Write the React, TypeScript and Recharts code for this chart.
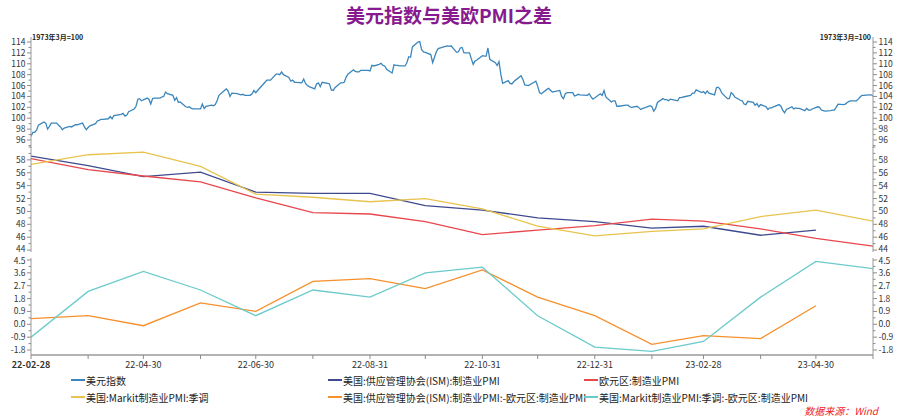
import { LineChart, Line, XAxis, YAxis, CartesianGrid } from 'recharts';

const W = 898;
const H = 419;
const AXIS_L = 31;
const AXIS_R = 873;
const AXIS_Y = 355;
const FONT = '"Noto Sans CJK SC", "Noto Sans", sans-serif';

// 美元指数 (daily)
const dxyDates = [
  '22-02-28',
  '22-03-01', '22-03-02', '22-03-03', '22-03-04', '22-03-07', '22-03-08', '22-03-09', '22-03-10', '22-03-11', '22-03-14', '22-03-15', '22-03-16', '22-03-17', '22-03-18', '22-03-21', '22-03-22', '22-03-23', '22-03-24', '22-03-25', '22-03-28', '22-03-29', '22-03-30', '22-03-31',
  '22-04-01', '22-04-04', '22-04-05', '22-04-06', '22-04-07', '22-04-08', '22-04-11', '22-04-12', '22-04-13', '22-04-14', '22-04-18', '22-04-19', '22-04-20', '22-04-21', '22-04-22', '22-04-25', '22-04-26', '22-04-27', '22-04-28', '22-04-29',
  '22-05-02', '22-05-03', '22-05-04', '22-05-05', '22-05-06', '22-05-09', '22-05-10', '22-05-11', '22-05-12', '22-05-13', '22-05-16', '22-05-17', '22-05-18', '22-05-19', '22-05-20', '22-05-23', '22-05-24', '22-05-25', '22-05-26', '22-05-27', '22-05-31',
  '22-06-01', '22-06-02', '22-06-03', '22-06-06', '22-06-07', '22-06-08', '22-06-09', '22-06-10', '22-06-13', '22-06-14', '22-06-15', '22-06-16', '22-06-17', '22-06-20', '22-06-21', '22-06-22', '22-06-23', '22-06-24', '22-06-27', '22-06-28', '22-06-29', '22-06-30',
  '22-07-01', '22-07-05', '22-07-06', '22-07-07', '22-07-08', '22-07-11', '22-07-12', '22-07-13', '22-07-14', '22-07-15', '22-07-18', '22-07-19', '22-07-20', '22-07-21', '22-07-22', '22-07-25', '22-07-26', '22-07-27', '22-07-28', '22-07-29',
  '22-08-01', '22-08-02', '22-08-03', '22-08-04', '22-08-05', '22-08-08', '22-08-09', '22-08-10', '22-08-11', '22-08-12', '22-08-15', '22-08-16', '22-08-17', '22-08-18', '22-08-19', '22-08-22', '22-08-23', '22-08-24', '22-08-25', '22-08-26', '22-08-29', '22-08-30', '22-08-31',
  '22-09-01', '22-09-02', '22-09-05', '22-09-06', '22-09-07', '22-09-08', '22-09-09', '22-09-12', '22-09-13', '22-09-14', '22-09-15', '22-09-16', '22-09-19', '22-09-20', '22-09-21', '22-09-22', '22-09-23', '22-09-26', '22-09-27', '22-09-28', '22-09-29', '22-09-30',
  '22-10-03', '22-10-04', '22-10-05', '22-10-06', '22-10-07', '22-10-10', '22-10-11', '22-10-12', '22-10-13', '22-10-14', '22-10-17', '22-10-18', '22-10-19', '22-10-20', '22-10-21', '22-10-24', '22-10-25', '22-10-26', '22-10-27', '22-10-28', '22-10-31',
  '22-11-01', '22-11-02', '22-11-03', '22-11-04', '22-11-07', '22-11-08', '22-11-09', '22-11-10', '22-11-11', '22-11-14', '22-11-15', '22-11-16', '22-11-17', '22-11-18', '22-11-21', '22-11-22', '22-11-23', '22-11-25', '22-11-28', '22-11-29', '22-11-30',
  '22-12-01', '22-12-02', '22-12-05', '22-12-06', '22-12-07', '22-12-08', '22-12-09', '22-12-12', '22-12-13', '22-12-14', '22-12-15', '22-12-16', '22-12-19', '22-12-20', '22-12-21', '22-12-22', '22-12-23', '22-12-27', '22-12-28', '22-12-29', '22-12-30',
  '23-01-03', '23-01-04', '23-01-05', '23-01-06', '23-01-09', '23-01-10', '23-01-11', '23-01-12', '23-01-13', '23-01-17', '23-01-18', '23-01-19', '23-01-20', '23-01-23', '23-01-24', '23-01-25', '23-01-26', '23-01-27', '23-01-30', '23-01-31',
  '23-02-01', '23-02-02', '23-02-03', '23-02-06', '23-02-07', '23-02-08', '23-02-09', '23-02-10', '23-02-13', '23-02-14', '23-02-15', '23-02-16', '23-02-17', '23-02-21', '23-02-22', '23-02-23', '23-02-24', '23-02-27', '23-02-28',
  '23-03-01', '23-03-02', '23-03-03', '23-03-06', '23-03-07', '23-03-08', '23-03-09', '23-03-10', '23-03-13', '23-03-14', '23-03-15', '23-03-16', '23-03-17', '23-03-20', '23-03-21', '23-03-22', '23-03-23', '23-03-24', '23-03-27', '23-03-28', '23-03-29', '23-03-30', '23-03-31',
  '23-04-03', '23-04-04', '23-04-05', '23-04-06', '23-04-07', '23-04-10', '23-04-11', '23-04-12', '23-04-13', '23-04-14', '23-04-17', '23-04-18', '23-04-19', '23-04-20', '23-04-21', '23-04-24', '23-04-25', '23-04-26', '23-04-27', '23-04-28',
  '23-05-01', '23-05-02', '23-05-03', '23-05-04', '23-05-05', '23-05-08', '23-05-09', '23-05-10', '23-05-11', '23-05-12', '23-05-15', '23-05-16', '23-05-17', '23-05-18', '23-05-19', '23-05-22', '23-05-23', '23-05-24', '23-05-25', '23-05-26', '23-05-29', '23-05-30', '23-05-31',
];
const dxyValues = [
  96.7,
  97.4, 97.4, 97.8, 98.7, 99.3, 99.1, 98.0, 98.5, 99.1, 99.1, 98.7, 98.4, 97.9, 98.2, 98.5, 98.4, 98.6, 98.8, 98.8, 99.1, 98.4, 97.9, 98.3,
  98.6, 99.0, 99.5, 99.6, 99.8, 99.8, 99.9, 100.3, 99.9, 100.5, 100.7, 100.9, 100.4, 100.6, 101.2, 101.7, 102.2, 103.5, 103.6, 103.2,
  103.7, 103.5, 102.6, 103.6, 103.7, 103.7, 103.9, 104.0, 104.8, 104.5, 104.2, 103.3, 103.8, 102.9, 103.0, 102.1, 102.0, 102.1, 101.8, 101.7, 101.7,
  102.6, 101.8, 102.2, 102.4, 102.3, 102.5, 103.2, 104.2, 105.1, 105.4, 105.0, 104.0, 104.6, 104.5, 104.4, 104.3, 104.4, 104.2, 104.2, 104.5, 105.1, 104.7,
  105.1, 106.6, 107.0, 107.0, 107.0, 108.1, 108.1, 108.0, 108.5, 108.0, 107.5, 106.8, 107.0, 106.6, 106.6, 106.5, 107.2, 106.4, 106.0, 105.8,
  105.4, 106.3, 106.5, 105.8, 106.6, 106.4, 106.3, 105.2, 105.1, 105.6, 106.5, 106.5, 106.6, 107.5, 108.1, 108.9, 108.6, 108.5, 108.5, 108.8, 108.8, 108.8, 108.7,
  109.7, 109.6, 109.9, 110.1, 109.7, 109.6, 109.0, 108.3, 109.8, 109.7, 109.7, 109.6, 109.6, 110.2, 111.3, 111.2, 113.1, 114.0, 114.1, 112.6, 112.2, 112.1,
  111.7, 110.2, 111.2, 112.2, 112.8, 113.1, 113.2, 113.3, 113.2, 113.3, 112.1, 112.2, 112.9, 113.0, 112.0, 112.0, 110.9, 109.9, 110.5, 110.7, 111.5,
  111.4, 111.4, 112.9, 110.8, 110.2, 109.7, 110.4, 108.1, 106.4, 106.9, 106.4, 106.3, 106.7, 107.0, 107.8, 107.1, 106.1, 106.0, 106.6, 106.8, 105.9,
  104.7, 104.5, 105.3, 105.5, 105.1, 104.8, 104.9, 105.1, 104.0, 103.6, 104.5, 104.7, 104.7, 104.1, 104.2, 104.4, 104.3, 104.2, 104.5, 103.9, 103.5,
  104.5, 104.2, 105.1, 103.9, 103.0, 103.2, 103.2, 102.2, 102.2, 102.4, 102.4, 102.1, 102.0, 102.2, 101.9, 101.6, 101.8, 101.9, 102.3, 102.1,
  101.3, 101.8, 102.9, 103.6, 103.4, 103.4, 103.2, 103.5, 103.3, 103.2, 103.8, 103.8, 103.9, 104.2, 104.6, 104.6, 105.2, 104.7, 104.9,
  104.5, 105.0, 104.6, 104.3, 105.6, 105.7, 105.3, 104.6, 103.6, 103.6, 104.7, 104.4, 103.9, 103.3, 103.2, 102.6, 102.5, 103.1, 102.9, 102.4, 102.7, 102.1, 102.5,
  102.1, 101.6, 101.9, 101.9, 102.1, 102.5, 102.2, 101.5, 101.0, 101.6, 102.1, 101.7, 101.9, 101.8, 101.8, 101.4, 101.8, 101.5, 101.5, 101.7,
  102.1, 102.0, 101.5, 101.4, 101.3, 101.4, 101.5, 101.5, 102.0, 102.6, 102.5, 102.6, 102.9, 103.1, 103.2, 103.2, 103.5, 103.9, 104.2, 104.2, 104.3, 104.3, 104.1,
];

// monthly PMI
const pmiDates = [
  '22-02-28', '22-03-31', '22-04-30', '22-05-31', '22-06-30', '22-07-31', '22-08-31', '22-09-30',
  '22-10-31', '22-11-30', '22-12-31', '23-01-31', '23-02-28', '23-03-31', '23-04-30', '23-05-31',
];
const ismPmi = [58.6, 57.1, 55.4, 56.1, 53.0, 52.8, 52.8, 50.9, 50.2, 49.0, 48.4, 47.4, 47.7, 46.3, 47.1, null];
const euroPmi = [58.2, 56.5, 55.5, 54.6, 52.1, 49.8, 49.6, 48.4, 46.4, 47.1, 47.8, 48.8, 48.5, 47.3, 45.8, 44.6];
const markitPmi = [57.3, 58.8, 59.2, 57.0, 52.7, 52.2, 51.5, 52.0, 50.4, 47.7, 46.2, 46.9, 47.3, 49.2, 50.2, 48.5];
const ismMinusEuro = [0.4, 0.6, -0.1, 1.5, 0.9, 3.0, 3.2, 2.5, 3.8, 1.9, 0.6, -1.4, -0.8, -1.0, 1.3, null];
const markitMinusEuro = [-0.9, 2.3, 3.7, 2.4, 0.6, 2.4, 1.9, 3.6, 4.0, 0.6, -1.6, -1.9, -1.2, 1.9, 4.4, 3.9];

// axis ticks
const xTickDates = pmiDates;
const xLabelDates = ['22-02-28', '22-04-30', '22-06-30', '22-08-31', '22-10-31', '22-12-31', '23-02-28', '23-04-30'];
const dxyTicks = [96, 98, 100, 102, 104, 106, 108, 110, 112, 114];
const pmiTicks = [44, 46, 48, 50, 52, 54, 56, 58];
const diffTicks = [-1.8, -0.9, 0.0, 0.9, 1.8, 2.7, 3.6, 4.5];

const COLORS = {
  dxy: '#3b86bc',
  ism: '#3f4a8e',
  euro: '#e8474c',
  markit: '#e8c34d',
  ismDiff: '#f5902d',
  markitDiff: '#6ccacb',
};

const day = (s: string) => Date.UTC(2000 + +s.slice(0, 2), +s.slice(3, 5) - 1, +s.slice(6, 8)) / 86400000;
const X_DOMAIN = [day('22-02-28'), day('23-05-31')];

const dxyData = dxyDates.map((d, i) => ({ x: day(d), dxy: dxyValues[i] }));
const pmiData = pmiDates.map((d, i) => ({
  x: day(d),
  ism: ismPmi[i],
  euro: euroPmi[i],
  markit: markitPmi[i],
  ismDiff: ismMinusEuro[i],
  markitDiff: markitMinusEuro[i],
}));

const withMinors = (majors: number[], step: number, lo: number, hi: number) => {
  const out: number[] = [];
  for (let v = majors[0] - step * Math.floor((majors[0] - lo) / step); v <= hi + 1e-9; v += step) {
    out.push(Math.round(v * 1000) / 1000);
  }
  return out;
};

// labels at the panel seams sit close together; nudge them apart a little
function makeYTick(side: 'left' | 'right', majors: number[], digits: number, nudge: Record<string, number> = {}) {
  return (p: any) => {
    const v = p.payload.value;
    const major = majors.some((m) => Math.abs(m - v) < 1e-6);
    const ax = side === 'left' ? AXIS_L : AXIS_R;
    const dir = side === 'left' ? -1 : 1;
    const len = major ? 4 : 2.5;
    const label = v.toFixed(digits);
    return (
      <g>
        <line x1={ax} x2={ax + dir * len} y1={p.y} y2={p.y} stroke="#8c8c8c" strokeWidth={1} />
        {major && (
          <text
            x={ax + dir * (len + 1.5)}
            y={p.y + (nudge[label] || 0)}
            dy="0.35em"
            textAnchor={side === 'left' ? 'end' : 'start'}
            fontSize={8.5}
            fontFamily={FONT}
            fill="#333"
          >
            {label}
          </text>
        )}
      </g>
    );
  };
}

const fmtDay = (n: number) => {
  const d = new Date(n * 86400000);
  const p = (k: number) => String(k).padStart(2, '0');
  return `${p(d.getUTCFullYear() % 100)}-${p(d.getUTCMonth() + 1)}-${p(d.getUTCDate())}`;
};

function XTick(p: any) {
  const label = fmtDay(p.payload.value);
  const show = xLabelDates.includes(label);
  const x = p.x;
  return (
    <g>
      <line x1={x} x2={x} y1={AXIS_Y} y2={AXIS_Y + 4} stroke="#8c8c8c" />
      {show && (
        <text
          x={x}
          y={AXIS_Y + 13}
          textAnchor="middle"
          fontSize={9}
          fontFamily={FONT}
          fontWeight={label === xLabelDates[0] ? 700 : 400}
          fill="#333"
        >
          {label}
        </text>
      )}
    </g>
  );
}

interface PanelProps {
  top: number;
  bottom: number;
  domain: number[];
  majors: number[];
  ticks: number[];
  digits: number;
  data: any[];
  series: { key: string; color: string }[];
  withXAxis?: boolean;
  nudge?: Record<string, number>;
}

function Panel({ top, bottom, domain, majors, ticks, digits, data, series, withXAxis, nudge }: PanelProps) {
  const xh = withXAxis ? 30 : 0;
  return (
    <div style={{ position: 'absolute', left: 0, top: 0 }}>
      <LineChart
        width={W}
        height={H}
        data={data}
        margin={{ top, bottom: H - bottom - xh, left: 0, right: 0 }}
      >
        <CartesianGrid vertical={false} horizontalValues={majors} stroke="#ebebeb" strokeWidth={1.2} />
        <XAxis
          dataKey="x"
          type="number"
          domain={X_DOMAIN}
          allowDataOverflow
          hide={!withXAxis}
          height={xh}
          ticks={xTickDates.map(day)}
          interval={0}
          tickLine={false}
          tick={<XTick />}
          axisLine={{ stroke: '#9a9a9a', strokeWidth: 1.5 }}
        />
        <YAxis
          yAxisId="l"
          orientation="left"
          width={AXIS_L}
          domain={domain}
          allowDataOverflow
          ticks={ticks}
          interval={0}
          tickLine={false}
          tick={makeYTick('left', majors, digits, nudge)}
          axisLine={{ stroke: '#9a9a9a' }}
        />
        <YAxis
          yAxisId="r"
          orientation="right"
          width={W - AXIS_R}
          domain={domain}
          allowDataOverflow
          ticks={ticks}
          interval={0}
          tickLine={false}
          tick={makeYTick('right', majors, digits, nudge)}
          axisLine={{ stroke: '#9a9a9a' }}
        />
        {series.map((s) => (
          <Line
            key={s.key}
            yAxisId="l"
            type="linear"
            dataKey={s.key}
            stroke={s.color}
            strokeWidth={1.3}
            dot={false}
            isAnimationActive={false}
          />
        ))}
      </LineChart>
    </div>
  );
}

const legendItems = [
  { name: '美元指数', color: COLORS.dxy, x: 71, y: 380 },
  { name: '美国:供应管理协会(ISM):制造业PMI', color: COLORS.ism, x: 328, y: 380 },
  { name: '欧元区:制造业PMI', color: COLORS.euro, x: 584, y: 380 },
  { name: '美国:Markit制造业PMI:季调', color: COLORS.markit, x: 71, y: 397 },
  { name: '美国:供应管理协会(ISM):制造业PMI:-欧元区:制造业PMI', color: COLORS.ismDiff, x: 328, y: 397 },
  { name: '美国:Markit制造业PMI:季调:-欧元区:制造业PMI', color: COLORS.markitDiff, x: 584, y: 397 },
];

export default function App() {
  return (
    <div
      style={{
        position: 'absolute',
        left: 0,
        top: 0,
        width: W,
        height: H,
        background: '#fff',
        fontFamily: FONT,
        overflow: 'hidden',
      }}
    >
      <div
        style={{
          position: 'absolute',
          left: 0,
          width: W,
          top: 2,
          textAlign: 'center',
          fontSize: 19,
          fontWeight: 700,
          color: '#861a8e',
          lineHeight: '26px',
        }}
      >
        美元指数与美欧PMI之差
      </div>
      <div style={{ position: 'absolute', left: 32, top: 32, fontSize: 7, fontWeight: 700, color: '#222', lineHeight: '10px' }}>
        1973年3月=100
      </div>
      <div
        style={{
          position: 'absolute',
          right: W - 871,
          top: 32,
          fontSize: 7,
          fontWeight: 700,
          color: '#222',
          lineHeight: '10px',
        }}
      >
        1973年3月=100
      </div>

      <Panel
        top={37}
        bottom={148}
        domain={[94.53, 114.92]}
        majors={dxyTicks}
        ticks={withMinors(dxyTicks, 1, 94.53, 114.92)}
        digits={0}
        data={dxyData}
        series={[{ key: 'dxy', color: COLORS.dxy }]}
      />
      <Panel
        top={147}
        bottom={252}
        domain={[43.7, 60]}
        majors={pmiTicks}
        ticks={withMinors(pmiTicks, 1, 43.7, 60)}
        digits={0}
        data={pmiData}
        nudge={{ '44': -1.5 }}
        series={[
          { key: 'ism', color: COLORS.ism },
          { key: 'euro', color: COLORS.euro },
          { key: 'markit', color: COLORS.markit },
        ]}
      />
      <Panel
        top={258}
        bottom={AXIS_Y}
        domain={[-2.15, 4.64]}
        majors={diffTicks}
        ticks={withMinors(diffTicks, 0.45, -2.15, 4.64)}
        digits={1}
        data={pmiData}
        nudge={{ '4.5': 1.5 }}
        series={[
          { key: 'ismDiff', color: COLORS.ismDiff },
          { key: 'markitDiff', color: COLORS.markitDiff },
        ]}
        withXAxis
      />

      {legendItems.map((it) => (
        <div
          key={it.name}
          style={{
            position: 'absolute',
            left: it.x,
            top: it.y - 7,
            height: 14,
            display: 'flex',
            alignItems: 'center',
            fontSize: 10,
            color: '#222',
            whiteSpace: 'nowrap',
          }}
        >
          <span style={{ display: 'inline-block', width: 14, height: 1.5, background: it.color, marginRight: 1 }} />
          {it.name}
        </div>
      ))}
      <div
        style={{
          position: 'absolute',
          right: W - 878,
          top: 404,
          fontSize: 10,
          fontStyle: 'italic',
          color: '#ee1c25',
          lineHeight: '14px',
        }}
      >
        数据来源：Wind
      </div>
    </div>
  );
}
